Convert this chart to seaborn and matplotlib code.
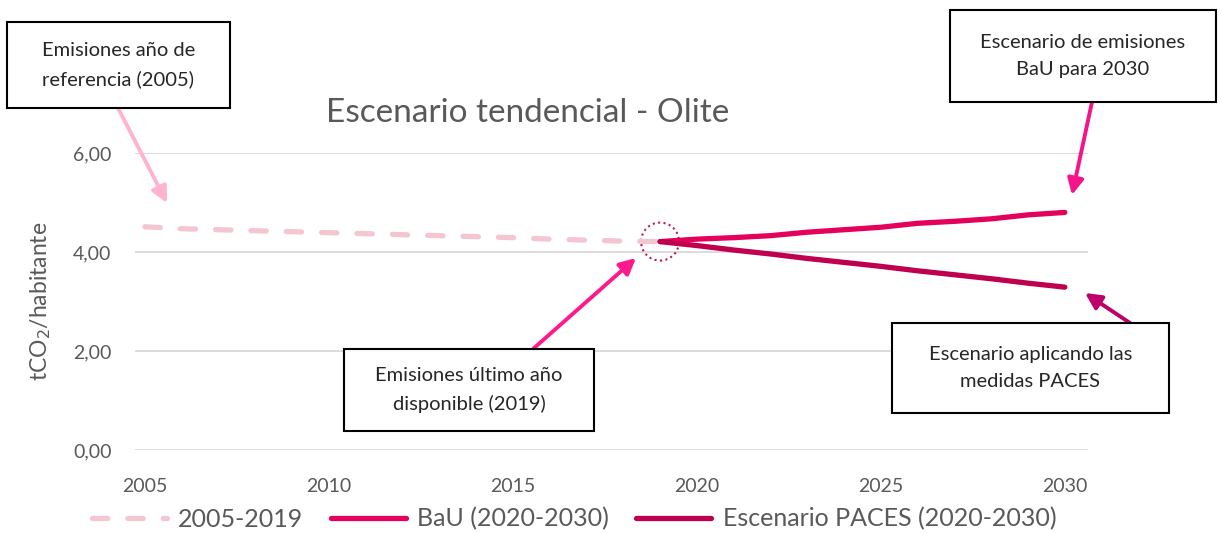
import numpy as np
import pandas as pd
import seaborn as sns
import matplotlib.pyplot as plt
import matplotlib.transforms as mtransforms
from matplotlib.patches import Rectangle, Circle

# data
years_hist = list(range(2005, 2020))
hist = [4.51, 4.47, 4.45, 4.43, 4.41, 4.39, 4.37, 4.35, 4.33, 4.31, 4.29, 4.26, 4.24, 4.22, 4.21]
years_proj = list(range(2019, 2031))
bau = [4.21, 4.26, 4.29, 4.33, 4.40, 4.45, 4.50, 4.58, 4.62, 4.67, 4.75, 4.80]
paces = [4.21, 4.13, 4.04, 3.96, 3.87, 3.79, 3.71, 3.62, 3.54, 3.46, 3.37, 3.29]
series_names = ["2005-2019", "BaU (2020-2030)", "Escenario PACES (2020-2030)"]
x_ticks = [2005, 2010, 2015, 2020, 2025, 2030]
y_ticks = [0, 2, 4, 6]

c_hist = "#F4C6D0"
c_bau = "#E5005B"
c_paces = "#BE004F"
grey = "#595959"

sns.set_style("white")
plt.rcParams["font.family"] = ["Lato", "DejaVu Sans"]

W, H = 1222, 533
fig = plt.figure(figsize=(W / 100, H / 100), dpi=100)
ax = fig.add_axes([135 / W, (H - 450) / H, (1088 - 135) / W, (450 - 153) / H])

df_hist = pd.DataFrame({"year": years_hist, "val": hist})
df_proj = pd.DataFrame({"year": years_proj, "bau": bau, "paces": paces})

sns.lineplot(data=df_hist, x="year", y="val", ax=ax, color=c_hist, lw=3.8,
             label=series_names[0], dashes=False)
ax.lines[-1].set_dashes((2.9, 3.8))
ax.lines[-1].set_dash_capstyle("round")
sns.lineplot(data=df_proj, x="year", y="bau", ax=ax, color=c_bau, lw=3.8,
             label=series_names[1])
sns.lineplot(data=df_proj, x="year", y="paces", ax=ax, color=c_paces, lw=3.8,
             label=series_names[2])
for ln in ax.lines:
    ln.set_solid_capstyle("round")

ax.set_xlim(2004.73, 2030.63)
ax.set_ylim(0, 6)
ax.set_xticks(x_ticks)
ax.set_xticklabels([str(v) for v in x_ticks])
for lbl in ax.get_xticklabels():
    lbl.set_transform(lbl.get_transform() + mtransforms.ScaledTranslation(0.06, 0, fig.dpi_scale_trans))
ax.set_yticks(y_ticks)
ax.set_yticklabels([f"{v:.2f}".replace(".", ",") for v in y_ticks])
ax.tick_params(axis="y", length=0, pad=17, labelsize=14, labelcolor=grey)
ax.tick_params(axis="x", length=0, pad=20, labelsize=14, labelcolor=grey)
ax.grid(axis="y", color="#D9D9D9", lw=1.3)
ax.set_axisbelow(True)
for s in ax.spines.values():
    s.set_visible(False)
ax.set_xlabel("")
ax.set_ylabel("tCO$_2$/habitante", fontsize=16.5, color=grey, labelpad=14)

fig.text(528 / W, 1 - 113 / H, "Escenario tendencial - Olite", ha="center", va="center",
         fontsize=24, color=grey)

leg = ax.legend(loc="center", bbox_to_anchor=(574 / W, 1 - 519 / H),
                bbox_transform=fig.transFigure, ncol=3, frameon=False, fontsize=18,
                handlelength=3.0, columnspacing=1.1, handletextpad=0.45)
for t in leg.get_texts():
    t.set_color(grey)

# dotted circle on the last measured year
trans = fig.dpi_scale_trans + mtransforms.ScaledTranslation(2019, 4.21, ax.transData)
ax.add_patch(Circle((0, 0), 0.19, transform=trans, fill=False, ec="#C2185B",
                    lw=1.5, ls=(0, (1, 1.6)), clip_on=False))


def box(x0, y0, x1, y1, text):
    fig.patches.append(Rectangle((x0 / W, 1 - y1 / H), (x1 - x0) / W, (y1 - y0) / H,
                                 transform=fig.transFigure, fill=True, fc="white",
                                 ec="black", lw=1.5, zorder=5))
    fig.text((x0 + x1) / 2 / W, 1 - (y0 + y1) / 2 / H, text, ha="center", va="center",
             fontsize=14.5, color="#262626", linespacing=1.7, zorder=6)


def arrow(tail, head, color):
    ax.annotate("", xy=(head[0], H - head[1]), xytext=(tail[0], H - tail[1]),
                xycoords="figure pixels", textcoords="figure pixels",
                arrowprops=dict(arrowstyle="-|>", color=color, lw=2.8,
                                mutation_scale=24, shrinkA=0, shrinkB=0))


arrow((118, 108), (167, 203), "#FFB3D1")
arrow((1092, 102), (1072, 195), "#F7148A")
arrow((533, 349), (636, 258), "#FF1A8C")
arrow((1130, 323), (1085, 293), "#C0006A")

box(7, 22, 230, 108, "Emisiones año de\nreferencia (2005)")
box(950, 10, 1216, 102, "Escenario de emisiones\nBaU para 2030")
box(344, 349, 594, 431, "Emisiones último año\ndisponible (2019)")
box(892, 323, 1169, 413, "Escenario aplicando las\nmedidas PACES")

fig.savefig("out.png", dpi=100)
